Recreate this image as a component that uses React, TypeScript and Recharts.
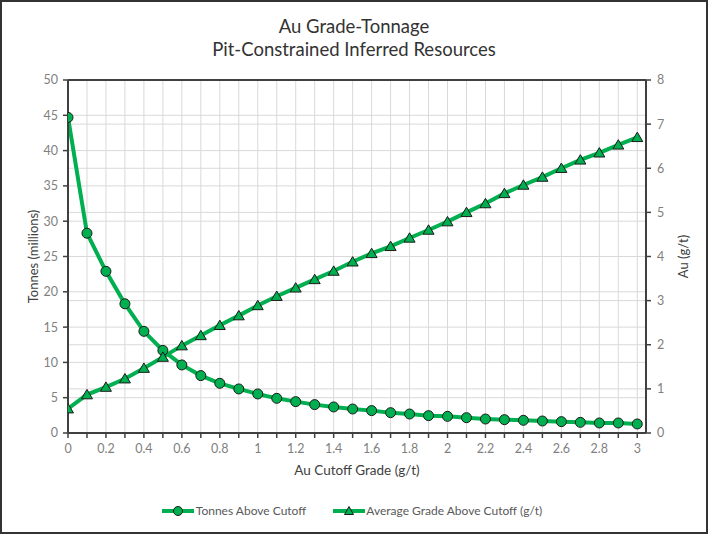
import React from "react";
import {
  LineChart,
  Line,
  XAxis,
  YAxis,
  CartesianGrid,
  ReferenceLine,
} from "recharts";

const cutoffGrades = [
  0, 0.1, 0.2, 0.3, 0.4, 0.5, 0.6, 0.7, 0.8, 0.9, 1, 1.1, 1.2, 1.3, 1.4, 1.5,
  1.6, 1.7, 1.8, 1.9, 2, 2.1, 2.2, 2.3, 2.4, 2.5, 2.6, 2.7, 2.8, 2.9, 3,
];
const tonnesAboveCutoff = [
  44.7, 28.3, 22.9, 18.3, 14.4, 11.7, 9.64, 8.13, 7.04, 6.24, 5.53, 4.91, 4.44,
  4.02, 3.69, 3.4, 3.17, 2.88, 2.69, 2.46, 2.36, 2.17, 1.98, 1.89, 1.8, 1.7,
  1.61, 1.51, 1.42, 1.42, 1.28,
];
const averageGrade = [
  0.55, 0.87, 1.04, 1.23, 1.47, 1.72, 1.98, 2.21, 2.44, 2.66, 2.89, 3.1, 3.29,
  3.48, 3.67, 3.88, 4.07, 4.23, 4.42, 4.6, 4.79, 5.0, 5.2, 5.43, 5.62, 5.8, 6.0,
  6.19, 6.35, 6.53, 6.7,
];
const xTicks = [
  0, 0.1, 0.2, 0.3, 0.4, 0.5, 0.6, 0.7, 0.8, 0.9, 1, 1.1, 1.2, 1.3, 1.4, 1.5,
  1.6, 1.7, 1.8, 1.9, 2, 2.1, 2.2, 2.3, 2.4, 2.5, 2.6, 2.7, 2.8, 2.9, 3,
];
const xTickLabels = [
  "0", "", "0.2", "", "0.4", "", "0.6", "", "0.8", "", "1", "", "1.2", "", "1.4", "",
  "1.6", "", "1.8", "", "2", "", "2.2", "", "2.4", "", "2.6", "", "2.8", "", "3",
];
const leftTicks = [0, 5, 10, 15, 20, 25, 30, 35, 40, 45, 50];
const rightTicks = [0, 1, 2, 3, 4, 5, 6, 7, 8];

const seriesNames = ["Tonnes Above Cutoff", "Average Grade Above Cutoff (g/t)"];
const titleLines = ["Au Grade-Tonnage", "Pit-Constrained Inferred Resources"];

const data = cutoffGrades.map((g, i) => ({
  grade: g,
  tonnes: tonnesAboveCutoff[i],
  avg: averageGrade[i],
}));

const GREEN = "#00B050";
const FONT = "Lato, 'Noto Sans', sans-serif";
const AXIS = "#404040";
const GRID = "#D9D9D9";
const TICK_TEXT = "#7F7F7F";

const CircleDot = (props: any) => {
  const { cx, cy } = props;
  if (cx == null || cy == null) return null;
  return <circle cx={cx} cy={cy} r={5} fill={GREEN} stroke="#1a1a1a" strokeWidth={1} />;
};

const TriangleDot = (props: any) => {
  const { cx, cy } = props;
  if (cx == null || cy == null) return null;
  const pts = `${cx},${cy - 5.2} ${cx + 5.5},${cy + 4.2} ${cx - 5.5},${cy + 4.2}`;
  return <polygon points={pts} fill={GREEN} stroke="#1a1a1a" strokeWidth={1} />;
};

export default function App() {
  return (
    <div
      style={{
        position: "relative",
        width: 708,
        height: 534,
        background: "#fff",
        fontFamily: FONT,
      }}
    >
      <style>{"body{margin:0;}"}</style>
      <div
        style={{
          position: "absolute",
          left: 0,
          top: 15,
          width: 708,
          textAlign: "center",
          color: "#333",
          fontSize: 18.5,
          lineHeight: "23px",
        }}
      >
        <div>{titleLines[0]}</div>
        <div>{titleLines[1]}</div>
      </div>
      <LineChart
        width={708}
        height={534}
        data={data}
        margin={{ top: 80, right: 0, bottom: 0, left: 0 }}
        style={{ position: "absolute", left: 0, top: 0 }}
      >
        <CartesianGrid yAxisId="left" xAxisId="x" stroke={GRID} strokeWidth={1} />
        <CartesianGrid
          yAxisId="right"
          xAxisId="x"
          vertical={false}
          stroke={GRID}
          strokeWidth={1}
        />
        <XAxis
          xAxisId="x"
          dataKey="grade"
          type="number"
          domain={[0, 3.046]}
          ticks={xTicks}
          interval={0}
          allowDataOverflow
          height={101}
          tickSize={5}
          tickMargin={6}
          tickLine={{ stroke: AXIS, strokeWidth: 1.5 }}
          axisLine={{ stroke: AXIS, strokeWidth: 2 }}
          tickFormatter={(v: any, i: number) => xTickLabels[i] ?? ""}
          tick={{ fill: TICK_TEXT, fontSize: 12.5, fontFamily: FONT }}
          label={{
            value: "Au Cutoff Grade (g/t)",
            position: "insideTop",
            offset: 32,
            fill: "#404040",
            fontSize: 13.5,
            fontFamily: FONT,
          }}
        />
        <YAxis
          yAxisId="left"
          orientation="left"
          domain={[0, 50]}
          ticks={leftTicks}
          interval={0}
          width={68}
          tickSize={5}
          tickMargin={5}
          tickLine={{ stroke: AXIS, strokeWidth: 1.5 }}
          axisLine={{ stroke: AXIS, strokeWidth: 2 }}
          tick={{ fill: TICK_TEXT, fontSize: 12.5, fontFamily: FONT }}
          label={{
            value: "Tonnes (millions)",
            angle: -90,
            position: "center",
            dx: -1,
            fill: "#404040",
            fontSize: 13,
            fontFamily: FONT,
          }}
        />
        <YAxis
          yAxisId="right"
          orientation="right"
          domain={[0, 8]}
          ticks={rightTicks}
          interval={0}
          width={62}
          tickSize={5}
          tickMargin={6}
          tickLine={{ stroke: AXIS, strokeWidth: 1.5 }}
          axisLine={{ stroke: AXIS, strokeWidth: 2 }}
          tick={{ fill: TICK_TEXT, fontSize: 12.5, fontFamily: FONT }}
          label={{
            value: "Au (g/t)",
            angle: -90,
            position: "center",
            dx: 6,
            fill: "#404040",
            fontSize: 13,
            fontFamily: FONT,
          }}
        />
        <ReferenceLine yAxisId="left" xAxisId="x" y={50} stroke={AXIS} strokeWidth={2} />
        <Line
          xAxisId="x"
          yAxisId="left"
          type="linear"
          dataKey="tonnes"
          name={seriesNames[0]}
          stroke={GREEN}
          strokeWidth={4}
          dot={<CircleDot />}
          activeDot={false}
          isAnimationActive={false}
        />
        <Line
          xAxisId="x"
          yAxisId="right"
          type="linear"
          dataKey="avg"
          name={seriesNames[1]}
          stroke={GREEN}
          strokeWidth={4}
          dot={<TriangleDot />}
          activeDot={false}
          isAnimationActive={false}
        />
      </LineChart>
      <div
        style={{
          position: "absolute",
          left: 0,
          top: 502,
          width: 708,
          display: "flex",
          justifyContent: "center",
          alignItems: "center",
          fontSize: 12,
          color: "#595959",
          lineHeight: "18px",
          paddingRight: 4,
          boxSizing: "border-box",
        }}
      >
        <div style={{ display: "flex", alignItems: "center", marginRight: 27 }}>
          <svg width={32} height={12} style={{ marginRight: 2 }}>
            <line x1={0} y1={6} x2={32} y2={6} stroke={GREEN} strokeWidth={4} />
            <circle cx={16} cy={6} r={4.5} fill={GREEN} stroke="#1a1a1a" strokeWidth={1} />
          </svg>
          <span>{seriesNames[0]}</span>
        </div>
        <div style={{ display: "flex", alignItems: "center" }}>
          <svg width={32} height={12} style={{ marginRight: 1 }}>
            <line x1={0} y1={6} x2={32} y2={6} stroke={GREEN} strokeWidth={4} />
            <polygon points="16,1.5 20.5,9.5 11.5,9.5" fill={GREEN} stroke="#1a1a1a" strokeWidth={1} />
          </svg>
          <span>{seriesNames[1]}</span>
        </div>
      </div>
      <div
        style={{
          position: "absolute",
          left: 0,
          top: 0,
          width: 708,
          height: 534,
          boxSizing: "border-box",
          border: "2px solid #333",
          pointerEvents: "none",
        }}
      />
    </div>
  );
}
